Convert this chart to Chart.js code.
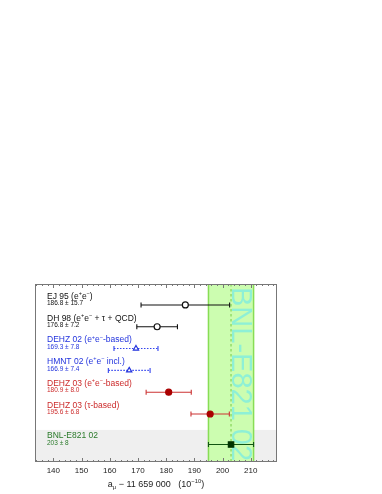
<!DOCTYPE html>
<html>
<head>
<meta charset="utf-8">
<script src="https://cdn.jsdelivr.net/npm/chart.js@4"></script>
<style>
  html, body { margin: 0; padding: 0; background: #fff; }
</style>
</head>
<body>
<canvas id="chart" width="382" height="494"></canvas>
<script>
// measurements, a_mu - 11 659 000 (10^-10)
const names = [
  "EJ 95 (e^{+}e^{−})",
  "DH 98 (e^{+}e^{−} + τ + QCD)",
  "DEHZ 02 (e^{+}e^{−}-based)",
  "HMNT 02 (e^{+}e^{−} incl.)",
  "DEHZ 03 (e^{+}e^{−}-based)",
  "DEHZ 03 (τ-based)",
  "BNL-E821 02",
];
const valueLabels = [
  "186.8 ± 15.7",
  "176.8 ± 7.2",
  "169.3 ± 7.8",
  "166.9 ± 7.4",
  "180.9 ± 8.0",
  "195.6 ± 6.8",
  "203 ± 8",
];
const centers = [186.8, 176.8, 169.3, 166.9, 180.9, 195.6, 203];
const errors = [15.7, 7.2, 7.8, 7.4, 8.0, 6.8, 8];
const xTicks = [140, 150, 160, 170, 180, 190, 200, 210];
const bandLabel = "BNL-E821 02";

const FONT = "'Liberation Sans', Arial, Helvetica, sans-serif";

// styles per row
const groups = ["black", "black", "blue", "blue", "red", "red", "green"];
const palette = {
  black: { line: "#111111", text: "#111111", marker: "#111111", fill: "#ffffff", dash: [], style: "circle" },
  blue: { line: "#3344ee", text: "#2233dd", marker: "#2233dd", fill: "#ffffff", dash: [1.5, 1.5], style: "triangle" },
  red: { line: "#cc3333", text: "#cc2a2a", marker: "#aa0000", fill: "#aa0000", dash: [], style: "circle" },
  green: { line: "#115511", text: "#2a7a2a", marker: "#003300", fill: "#003300", dash: [], style: "rect" },
};

// last row (the experiment) sits a bit apart from the theory rows
const rowY = (i) => (i < names.length - 1 ? 7 - i : 0.6);
const expIndex = names.length - 1;

// text with ^{..} and _{..}
function drawRich(ctx, str, x, y, size) {
  const re = /\^\{([^}]*)\}|_\{([^}]*)\}|([^^_]+)/g;
  let m;
  ctx.textBaseline = "middle";
  ctx.textAlign = "left";
  while ((m = re.exec(str)) !== null) {
    let t, s = size, dy = 0;
    if (m[1] !== undefined) { t = m[1]; s = size * 0.65; dy = -size * 0.35; }
    else if (m[2] !== undefined) { t = m[2]; s = size * 0.65; dy = size * 0.3; }
    else { t = m[3]; }
    ctx.font = s + "px " + FONT;
    ctx.fillText(t, x, y + dy);
    x += ctx.measureText(t).width;
  }
  return x;
}

function richWidth(ctx, str, size) {
  const re = /\^\{([^}]*)\}|_\{([^}]*)\}|([^^_]+)/g;
  let m, w = 0;
  while ((m = re.exec(str)) !== null) {
    const t = m[1] !== undefined ? m[1] : m[2] !== undefined ? m[2] : m[3];
    const s = m[3] !== undefined ? size : size * 0.65;
    ctx.font = s + "px " + FONT;
    w += ctx.measureText(t).width;
  }
  return w;
}

const backdrop = {
  id: "backdrop",
  beforeDatasetsDraw(chart) {
    const { ctx, chartArea: a, scales: { x, y } } = chart;
    ctx.save();
    // grey experiment strip
    const gTop = y.getPixelForValue(1.27);
    ctx.fillStyle = "#efefef";
    ctx.fillRect(a.left, gTop, a.right - a.left, a.bottom - gTop);

    // experimental band
    const c = centers[expIndex], e = errors[expIndex];
    const x0 = x.getPixelForValue(c - e), x1 = x.getPixelForValue(c + e);
    ctx.fillStyle = "#ccfdb0";
    ctx.fillRect(x0, a.top, x1 - x0, a.bottom - a.top);
    ctx.strokeStyle = "#88dd55";
    ctx.lineWidth = 1.5;
    ctx.beginPath();
    ctx.moveTo(x0, a.top); ctx.lineTo(x0, a.bottom);
    ctx.moveTo(x1, a.top); ctx.lineTo(x1, a.bottom);
    ctx.stroke();

    // rotated band label
    const xc = x.getPixelForValue(c);
    ctx.save();
    ctx.translate(xc + 0.5, a.top + 3);
    ctx.rotate(Math.PI / 2);
    ctx.font = "29px " + FONT;
    ctx.fillStyle = "#8ef0d6";
    ctx.textAlign = "left";
    ctx.textBaseline = "alphabetic";
    ctx.fillText(bandLabel, 0, 0);
    ctx.restore();

    // central value
    ctx.strokeStyle = "#77cc44";
    ctx.lineWidth = 1;
    ctx.setLineDash([2.5, 2.5]);
    ctx.beginPath();
    ctx.moveTo(xc, a.top); ctx.lineTo(xc, a.bottom);
    ctx.stroke();
    ctx.setLineDash([]);

    // error bars
    centers.forEach((cv, i) => {
      const p = palette[groups[i]];
      const py = y.getPixelForValue(rowY(i));
      const l = x.getPixelForValue(cv - errors[i]);
      const r = x.getPixelForValue(cv + errors[i]);
      ctx.strokeStyle = p.line;
      ctx.lineWidth = 1.1;
      ctx.setLineDash(p.dash);
      ctx.beginPath();
      ctx.moveTo(l, py); ctx.lineTo(r, py);
      ctx.stroke();
      ctx.setLineDash([]);
      ctx.beginPath();
      ctx.moveTo(l, py - 2.5); ctx.lineTo(l, py + 2.5);
      ctx.moveTo(r, py - 2.5); ctx.lineTo(r, py + 2.5);
      ctx.stroke();
    });

    // row labels
    centers.forEach((cv, i) => {
      const p = palette[groups[i]];
      const py = y.getPixelForValue(rowY(i));
      ctx.fillStyle = p.text;
      drawRich(ctx, names[i], a.left + 12, py - 8.5, 8.5);
      ctx.font = "6.5px " + FONT;
      ctx.fillText(valueLabels[i], a.left + 12, py - 1.5);
    });
    ctx.restore();
  },
  afterDatasetsDraw(chart) {
    const { ctx, chartArea: a, scales: { x } } = chart;
    ctx.save();
    ctx.strokeStyle = "#777777";
    ctx.lineWidth = 1;
    ctx.strokeRect(a.left + 0.5, a.top + 0.5, a.right - a.left - 1, a.bottom - a.top - 1);
    ctx.beginPath();
    const start = Math.ceil(x.min / 2) * 2;
    for (let v = start; v <= x.max; v += 2) {
      const px = Math.round(x.getPixelForValue(v)) + 0.5;
      const len = v % 10 === 0 ? 4 : 2;
      ctx.moveTo(px, a.top); ctx.lineTo(px, a.top + len);
      ctx.moveTo(px, a.bottom); ctx.lineTo(px, a.bottom - len);
    }
    ctx.stroke();

    // axis title with sub/superscripts
    const title = "a_{μ} − 11 659 000   (10^{−10})";
    const size = 9;
    const w = richWidth(ctx, title, size);
    ctx.fillStyle = "#222222";
    drawRich(ctx, title, (a.left + a.right) / 2 - w / 2, a.bottom + 23, size);
    ctx.restore();
  },
};

const ctx = document.getElementById("chart").getContext("2d");

const chart = new Chart(ctx, {
  type: "scatter",
  data: {
    datasets: [
      {
        data: centers.map((c, i) => ({ x: c, y: rowY(i) })),
        pointStyle: groups.map((g) => palette[g].style),
        pointRadius: groups.map((g) => (g === "green" ? 3.8 : 3)),
        pointBackgroundColor: groups.map((g) => palette[g].fill),
        pointBorderColor: groups.map((g) => palette[g].marker),
        pointBorderWidth: 1.2,
      },
    ],
  },
  options: {
    responsive: false,
    animation: false,
    events: [],
    layout: { padding: { left: 35, right: 105, top: 284, bottom: 0 } },
    plugins: {
      legend: { display: false },
      tooltip: { enabled: false },
    },
    scales: {
      x: {
        type: "linear",
        min: 133.5,
        max: 219.3,
        afterBuildTicks: (s) => { s.ticks = xTicks.map((v) => ({ value: v })); },
        afterFit: (s) => { s.height = 32; },
        grid: { display: false, drawTicks: false },
        border: { display: false },
        ticks: {
          font: { size: 8, family: FONT },
          color: "#222222",
          padding: 4,
          maxRotation: 0,
          autoSkip: false,
        },
      },
      y: { type: "linear", min: -0.2, max: 7.96, display: false },
    },
  },
  plugins: [backdrop],
});
</script>
</body>
</html>
